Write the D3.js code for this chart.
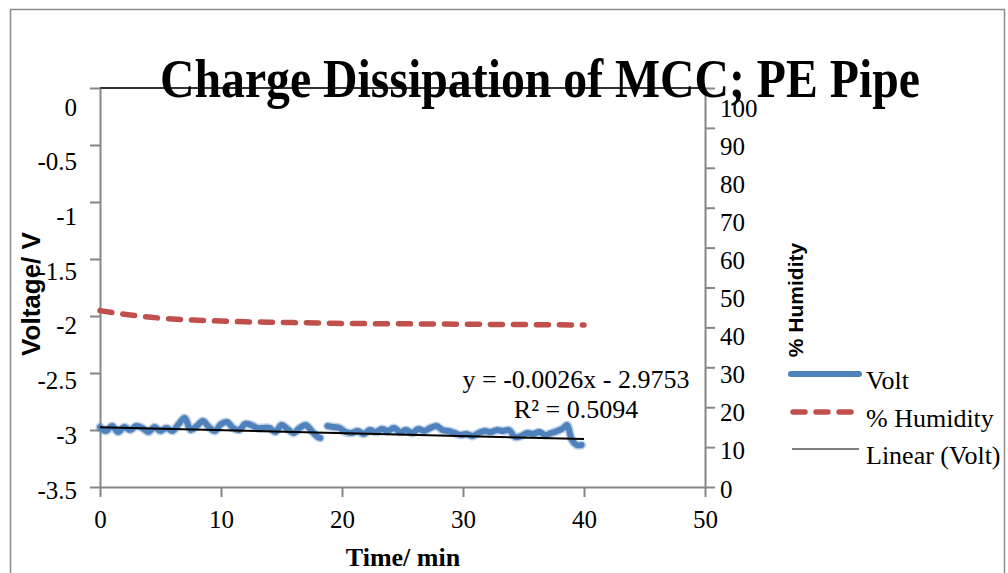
<!DOCTYPE html>
<html><head><meta charset="utf-8">
<script src="https://cdn.jsdelivr.net/npm/d3@7"></script>
<style>body{margin:0;background:#fff}svg{display:block}</style>
</head><body>
<svg id="chart" width="1008" height="573"></svg>
<script>
// ---------- data ----------
const titleText = "Charge Dissipation of MCC; PE Pipe";
const xTitle = "Time/ min";
const yLeftTitle = "Voltage/ V";
const yRightTitle = "% Humidity";

const voltTime = [0,0.5,1,1.5,2,2.5,3,3.5,4,4.5,5,5.5,6,6.5,7,7.5,8,8.5,9,9.5,10,10.5,11,11.5,12,12.5,13,13.5,14,14.5,15,15.5,16,16.5,17,17.5,18,18.2,18.5,18.8,19.3,19.8,20.3,20.8,21.3,21.8,22.3,22.8,23.3,23.8,24.3,24.8,25.3,25.8,26.3,26.8,27.3,27.8,28.3,28.8,29.3,29.8,30.3,30.8,31.3,31.8,32.3,32.8,33.3,33.8,34.3,34.8,35.3,35.8,36.3,36.8,37.3,37.8,38.3,38.6,39.0,39.4,39.8];
const voltValue = [-2.974,-3.009,-2.965,-3.018,-2.974,-3.000,-2.965,-2.982,-3.018,-2.974,-3.009,-2.982,-3.009,-2.947,-2.895,-3.000,-2.965,-2.921,-2.974,-3.009,-2.947,-2.930,-2.982,-3.000,-2.947,-2.956,-2.982,-2.982,-2.982,-3.018,-2.956,-2.991,-3.026,-2.982,-2.956,-3.009,-3.061,-3.070,null,-2.965,-2.974,-2.982,-3.018,-3.026,-3.009,-3.035,-3.000,-3.018,-2.991,-3.009,-2.982,-3.018,-3.000,-3.026,-2.991,-3.009,-2.982,-2.965,-3.000,-3.009,-3.026,-3.044,-3.035,-3.053,-3.026,-3.009,-3.018,-3.000,-3.009,-3.000,-3.061,-3.053,-3.026,-3.035,-3.018,-3.044,-3.026,-3.009,-2.982,-2.956,-3.088,-3.132,-3.132];

const humidTime = [0,2,4,6,8,10,12,14,16,18,20,25,30,35,40];
const humidValue = [44.2,43.3,42.6,42.1,41.8,41.6,41.4,41.3,41.2,41.1,41.0,40.9,40.8,40.7,40.6];

const trendSlope = -0.0026;
const trendIntercept = -2.9753;
const trendRange = [0, 40];
const trendLabel = "y = -0.0026x - 2.9753";
const r2Label = "R\u00B2 = 0.5094";

const xTicks = [0,10,20,30,40,50];
const yLeftTicks = [0,-0.5,-1,-1.5,-2,-2.5,-3,-3.5];
const yLeftTickLabels = ["0","-0.5","-1","-1.5","-2","-2.5","-3","-3.5"];
const yRightTicks = [0,10,20,30,40,50,60,70,80,90,100];
const legendLabels = ["Volt","% Humidity","Linear (Volt)"];

// ---------- setup ----------
const svg = d3.select("#chart");
const serif = "'Liberation Serif','Times New Roman',serif";
const sans = "'Liberation Sans',Arial,sans-serif";
const axisGray = "#868686";
const blue = "#4F81BD", red = "#C0504D";

const x = d3.scaleLinear().domain([0,50]).range([100,705]);
const yL = d3.scaleLinear().domain([-3.5,0]).range([487,88]);
const yR = d3.scaleLinear().domain([0,100]).range([487,88]);
const yLLab = d3.scaleLinear().domain([-3.5,0]).range([490,107]);
const yRLab = d3.scaleLinear().domain([0,100]).range([489,108]);

// outer border
svg.append("rect").attr("x",10.5).attr("y",9.5).attr("width",994).attr("height",600)
  .attr("fill","none").attr("stroke","#8c8c8c").attr("stroke-width",1.5);

// top line of plot area
svg.append("line").attr("x1",100).attr("x2",705).attr("y1",88).attr("y2",88)
  .attr("stroke","#333").attr("stroke-width",2);

function styleTicks(g, size){
  g.select(".domain").attr("stroke",axisGray).attr("stroke-width",2);
  g.selectAll(".tick line").attr("stroke",axisGray).attr("stroke-width",2);
  g.selectAll(".tick text").attr("font-family",serif).style("font-family",serif)
    .attr("font-size",size).attr("fill","#000");
}

// left axis
const gL = svg.append("g").attr("transform","translate(100,0)")
  .call(d3.axisLeft(yL).tickValues(yLeftTicks).tickSize(10).tickSizeOuter(0).tickPadding(13)
    .tickFormat((d,i)=>yLeftTickLabels[i]));
styleTicks(gL, 25);
gL.selectAll(".tick text").attr("y",d=>yLLab(d)-yL(d));

// right axis
const gR = svg.append("g").attr("transform","translate(705,0)")
  .call(d3.axisRight(yR).tickValues(yRightTicks).tickSize(10).tickSizeOuter(0).tickPadding(5)
    .tickFormat(d3.format("d")));
styleTicks(gR, 25);
gR.selectAll(".tick text").attr("y",d=>yRLab(d)-yR(d));

// bottom axis
const gB = svg.append("g").attr("transform","translate(0,487)")
  .call(d3.axisBottom(x).tickValues(xTicks).tickSize(10).tickSizeOuter(0).tickPadding(13)
    .tickFormat(d3.format("d")));
styleTicks(gB, 25);

// humidity series
const humidData = humidTime.map((t,i)=>({t, v:humidValue[i]}));
svg.append("path").datum(humidData)
  .attr("d", d3.line().x(d=>x(d.t)).y(d=>yR(d.v)).curve(d3.curveMonotoneX))
  .attr("fill","none").attr("stroke",red).attr("stroke-width",5.5)
  .attr("stroke-dasharray","12,11").attr("stroke-linecap","round");

// volt series
const voltData = voltTime.map((t,i)=>({t, v:voltValue[i]}));
const voltLine = d3.line().defined(d=>d.v!==null).x(d=>x(d.t)).y(d=>yL(d.v)).curve(d3.curveCatmullRom);
svg.append("path").datum(voltData).attr("d",voltLine)
  .attr("fill","none").attr("stroke",blue).attr("stroke-opacity",0.35).attr("stroke-width",9)
  .attr("stroke-linejoin","round").attr("stroke-linecap","round");
svg.append("path").datum(voltData).attr("d",voltLine)
  .attr("fill","none").attr("stroke",blue).attr("stroke-width",6)
  .attr("stroke-linejoin","round").attr("stroke-linecap","round");

// trendline
const trendData = trendRange.map(t=>({t, v: trendSlope*t + trendIntercept}));
svg.append("path").datum(trendData)
  .attr("d", d3.line().x(d=>x(d.t)).y(d=>yL(d.v)))
  .attr("fill","none").attr("stroke","#000").attr("stroke-width",2);

// trend equation
svg.append("text").attr("x",576).attr("y",388).attr("text-anchor","middle")
  .attr("font-family",serif).attr("font-size",26).text(trendLabel);
svg.append("text").attr("x",576).attr("y",418).attr("text-anchor","middle")
  .attr("font-family",serif).attr("font-size",26).text(r2Label);

// title
svg.append("text").attr("transform","translate(540,97) scale(1,1.15)")
  .attr("text-anchor","middle").attr("font-family",serif).attr("font-weight","bold")
  .attr("font-size",48).attr("textLength",760).attr("lengthAdjust","spacingAndGlyphs")
  .text(titleText);

// axis titles
svg.append("text").attr("x",403).attr("y",566).attr("text-anchor","middle")
  .attr("font-family",serif).attr("font-weight","bold").attr("font-size",26).text(xTitle);
svg.append("text").attr("transform","translate(40,294) rotate(-90)").attr("text-anchor","middle")
  .attr("font-family",sans).attr("font-weight","bold").attr("font-size",26).text(yLeftTitle);
svg.append("text").attr("transform","translate(803,300) rotate(-90)").attr("text-anchor","middle")
  .attr("font-family",sans).attr("font-weight","bold").attr("font-size",21).text(yRightTitle);

// legend
const legY = [374, 412, 449];
const lg = svg.append("g");
lg.append("line").attr("x1",791).attr("x2",859).attr("y1",legY[0]).attr("y2",legY[0])
  .attr("stroke",blue).attr("stroke-width",6).attr("stroke-linecap","round");
lg.append("line").attr("x1",793).attr("x2",851).attr("y1",legY[1]).attr("y2",legY[1])
  .attr("stroke",red).attr("stroke-width",5.5).attr("stroke-dasharray","12,11").attr("stroke-linecap","round");
lg.append("line").attr("x1",792).attr("x2",859).attr("y1",legY[2]).attr("y2",legY[2])
  .attr("stroke","#555").attr("stroke-width",1.5);
lg.selectAll("text.leg").data(legendLabels).join("text").attr("class","leg")
  .attr("x",866).attr("y",(d,i)=>legY[i]+15)
  .attr("font-family",serif).attr("font-size",26).text(d=>d);
</script>
</body></html>
